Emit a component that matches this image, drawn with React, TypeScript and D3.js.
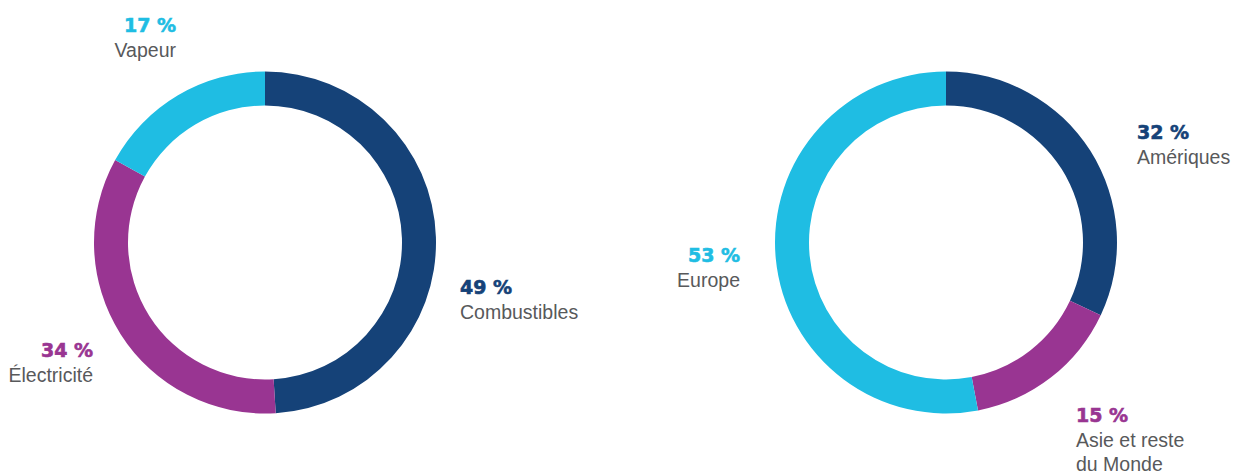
import React from "react";
import * as d3 from "d3";

// Data
const energyCategories = ["Combustibles", "Électricité", "Vapeur"];
const energyValues = [49, 34, 17];
const regionCategories = ["Amériques", "Asie et reste\ndu Monde", "Europe"];
const regionValues = [32, 15, 53];

const COLORS = ["#154278", "#993592", "#1fbde3"];
const TEXT_GRAY = "#58595b";

// Layout (label anchors per slice, in page px)
const leftLayout = {
  cx: 265,
  cy: 242.5,
  labels: [
    { anchor: "start", x: 460, y: 294 },
    { anchor: "end", x: 93, y: 357 },
    { anchor: "end", x: 176, y: 32 },
  ],
};
const rightLayout = {
  cx: 946,
  cy: 242.5,
  labels: [
    { anchor: "start", x: 1137, y: 139 },
    { anchor: "start", x: 1076, y: 422 },
    { anchor: "end", x: 740, y: 262 },
  ],
};

const OUTER = 171;
const INNER = 137;

function Donut({ cats, vals, layout }: any) {
  const pie = d3.pie<number>().sort(null).value((d) => d)(vals);
  const arc = d3.arc<any>().innerRadius(INNER).outerRadius(OUTER);
  return (
    <g>
      <g transform={`translate(${layout.cx},${layout.cy})`}>
        {pie.map((p, i) => (
          <path key={i} d={arc(p) as string} fill={COLORS[i]} />
        ))}
      </g>
      {cats.map((c: string, i: number) => {
        const L = layout.labels[i];
        const lines = c.split("\n");
        return (
          <g key={i}>
            <text
              x={L.x}
              y={L.y}
              textAnchor={L.anchor}
              fill={COLORS[i]}
              stroke={COLORS[i]}
              strokeWidth={0.6}
              fontFamily="'DejaVu Sans', sans-serif"
              fontWeight={700}
              fontSize={19}
            >
              {`${vals[i]} %`}
            </text>
            {lines.map((ln, j) => (
              <text
                key={j}
                x={L.x}
                y={L.y + 25 + j * 24}
                textAnchor={L.anchor}
                fill={TEXT_GRAY}
                fontFamily="'Liberation Sans', Arial, sans-serif"
                fontSize={19.5}
              >
                {ln}
              </text>
            ))}
          </g>
        );
      })}
    </g>
  );
}

export default function App() {
  return (
    <svg
      width={1239}
      height={474}
      style={{ position: "absolute", left: 0, top: 0, background: "#fff" }}
    >
      <Donut cats={energyCategories} vals={energyValues} layout={leftLayout} />
      <Donut cats={regionCategories} vals={regionValues} layout={rightLayout} />
    </svg>
  );
}
